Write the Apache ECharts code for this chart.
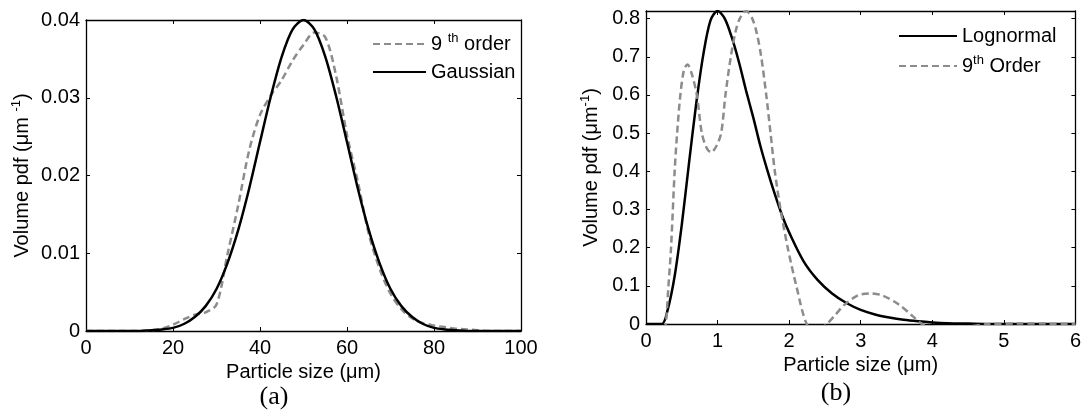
<!DOCTYPE html>
<html><head><meta charset="utf-8">
<script src="https://cdn.jsdelivr.net/npm/echarts@6/dist/echarts.min.js"></script>
<style>html,body{margin:0;padding:0;background:#fff}#c{width:1084px;height:410px}</style>
</head><body><div id="c"></div>
<script>
// ---------- Data (a) ----------
const xA = [0,2.5,5,7.5,10,12.5,15,17.5,20,22.5,25,27.5,30,32.5,35,37.5,40,42.5,45,47.5,50,52.5,55,57.5,60,62.5,65,67.5,70,72.5,75,77.5,80,82.5,85,87.5,90,92.5,95,97.5,100];
const gaussianA = [0,0,0,0,0,0,0.0001,0.0002,0.0004,0.0009,0.0018,0.0032,0.0054,0.0087,0.0130,0.0183,0.0243,0.0302,0.0353,0.0388,0.0400,0.0388,0.0353,0.0302,0.0243,0.0183,0.0130,0.0087,0.0054,0.0032,0.0018,0.0009,0.0004,0.0002,0.0001,0,0,0,0,0,0];
const order9A = [0,0,0,0,0,0,0.0001,0.0003,0.0008,0.0015,0.0021,0.0024,0.0034,0.0098,0.0162,0.0232,0.0278,0.0303,0.0323,0.0348,0.0368,0.0384,0.0378,0.0328,0.0252,0.0192,0.0125,0.0080,0.0048,0.0028,0.0016,0.0010,0.0007,0.0005,0.0003,0.0002,0.0001,0,0,0,0];
const xTicksA = [0,20,40,60,80,100];
const yTicksA = [0,0.01,0.02,0.03,0.04];

// ---------- Data (b) ----------
const xLognB = [0,0.22,0.3,0.4,0.5,0.6,0.7,0.8,0.9,1.0,1.1,1.2,1.3,1.4,1.5,1.6,1.7,1.8,1.9,2.0,2.2,2.4,2.6,2.8,3.0,3.2,3.4,3.6,3.8,4.0,4.2,4.5,5.0,6.0];
const lognormalB = [0,0,0.035,0.125,0.26,0.42,0.575,0.705,0.795,0.82,0.80,0.75,0.685,0.61,0.54,0.465,0.40,0.34,0.285,0.24,0.165,0.115,0.08,0.055,0.037,0.025,0.017,0.011,0.007,0.004,0.002,0.001,0,0];
const x9B = [0,0.2,0.276,0.31,0.35,0.40,0.435,0.48,0.53,0.58,0.64,0.71,0.78,0.85,0.91,0.98,1.05,1.11,1.185,1.25,1.31,1.40,1.485,1.55,1.61,1.68,1.74,1.80,1.88,1.98,2.10,2.245,2.38,2.525,2.65,2.77,2.96,3.13,3.30,3.54,3.73,3.86,4.1,4.4,4.8,5.2,5.6,6.0];
const order9B = [-0.3,-0.08,0,0.09,0.2,0.4,0.5,0.6,0.665,0.68,0.655,0.6,0.5,0.46,0.45,0.465,0.5,0.6,0.7,0.765,0.8,0.82,0.8,0.76,0.7,0.6,0.5,0.4,0.3,0.2,0.1,0,-0.02,0,0.025,0.05,0.075,0.08,0.075,0.05,0.02,0,-0.008,-0.008,0,0.001,0.001,0];
const xTicksB = [0,1,2,3,4,5,6];
const yTicksB = [0,0.1,0.2,0.3,0.4,0.5,0.6,0.7,0.8];
const yMaxB = 0.82;

// ---------- Styling ----------
const FONT = 'Arial, "Liberation Sans", Helvetica, sans-serif';
const FS = 20;
const GRAY = '#8c8c8c';
const pairs = (xs, ys) => xs.map((x, i) => [x, ys[i]]);
const supRich = { sup: { fontSize: 13, fontFamily: FONT, color: '#000', padding: [0, 0, 11, 0] } };

function xAxes(gi, ticks, name) {
  const base = {
    gridIndex: gi, type: 'value', min: ticks[0], max: ticks[ticks.length - 1], interval: ticks[1] - ticks[0],
    axisLine: { show: true, onZero: false, lineStyle: { color: '#000', width: 1.3 } },
    axisTick: { show: true, inside: true, length: 4, lineStyle: { color: '#000', width: 1 } },
    splitLine: { show: false }
  };
  return [
    Object.assign({}, base, {
      position: 'bottom',
      axisLabel: { color: '#000', fontSize: FS, fontFamily: FONT, margin: 7 },
      name: name, nameLocation: 'middle', nameGap: 30,
      nameTextStyle: { color: '#000', fontSize: FS, fontFamily: FONT }
    }),
    Object.assign({}, base, { position: 'top', axisLabel: { show: false } })
  ];
}
function yAxes(gi, ticks, max, name, gap) {
  const base = {
    gridIndex: gi, type: 'value', min: ticks[0], max: max, interval: ticks[1] - ticks[0],
    axisLine: { show: true, onZero: false, lineStyle: { color: '#000', width: 1.3 } },
    axisTick: { show: true, inside: true, length: 4, lineStyle: { color: '#000', width: 1 } },
    splitLine: { show: false }
  };
  return [
    Object.assign({}, base, {
      position: 'left',
      axisLabel: { color: '#000', fontSize: FS, fontFamily: FONT, margin: 6, showMaxLabel: max === ticks[ticks.length - 1] },
      name: name, nameLocation: 'middle', nameGap: gap, nameRotate: 90,
      nameTextStyle: { color: '#000', fontSize: FS, fontFamily: FONT, rich: supRich }
    }),
    Object.assign({}, base, { position: 'right', axisLabel: { show: false } })
  ];
}
function legendItem(name, left, top, w) {
  return {
    data: [name], left: left, top: top, orient: 'vertical',
    itemWidth: w, itemHeight: 14, itemGap: 0, padding: 0, selectedMode: false,
    itemStyle: { opacity: 0 },
    formatter: n => n.replace(/(th)/, '{sup|$1}'),
    textStyle: { color: '#000', fontSize: FS, fontFamily: FONT, lineHeight: 22, rich: supRich }
  };
}

const option = {
  animation: false,
  backgroundColor: '#fff',
  grid: [
    { left: 86, top: 20, width: 435, height: 311 },
    { left: 646, top: 11, width: 431, height: 313 }
  ],
  xAxis: [...xAxes(0, xTicksA, 'Particle size (μm)'), ...xAxes(1, xTicksB, 'Particle size (μm)')],
  yAxis: [...yAxes(0, yTicksA, yTicksA[yTicksA.length - 1], 'Volume pdf (μm {sup|-1})', 52),
          ...yAxes(1, yTicksB, yMaxB, 'Volume pdf (μm{sup|-1})', 43)],
  legend: [
    legendItem('9 th order', 372, 32, 53),
    legendItem('Gaussian', 372, 61, 53),
    legendItem('Lognormal', 898, 25, 58),
    legendItem('9th Order', 898, 54, 58)
  ],
  series: [
    { name: '9 th order', type: 'line', xAxisIndex: 0, yAxisIndex: 0, data: pairs(xA, order9A), symbol: 'none', smooth: 0.3,
      lineStyle: { color: GRAY, width: 2.5, type: [7, 4] }, itemStyle: { color: GRAY } },
    { name: 'Gaussian', type: 'line', xAxisIndex: 0, yAxisIndex: 0, data: pairs(xA, gaussianA), symbol: 'none', smooth: 0.3,
      lineStyle: { color: '#000', width: 2.5 }, itemStyle: { color: '#000' } },
    { name: 'Lognormal', type: 'line', xAxisIndex: 2, yAxisIndex: 2, data: pairs(xLognB, lognormalB), symbol: 'none', smooth: 0.3,
      lineStyle: { color: '#000', width: 2.5 }, itemStyle: { color: '#000' } },
    { name: '9th Order', type: 'line', xAxisIndex: 2, yAxisIndex: 2, data: pairs(x9B, order9B), symbol: 'none', smooth: 0.3,
      lineStyle: { color: GRAY, width: 2.5, type: [7, 4] }, itemStyle: { color: GRAY } }
  ],
  graphic: [
    { type: 'text', x: 274, y: 397, style: { text: '(a)', fontSize: 26, fontFamily: '"Times New Roman", "Liberation Serif", serif', fill: '#000', align: 'center', verticalAlign: 'middle', textAlign: 'center', textVerticalAlign: 'middle' } },
    { type: 'text', x: 836, y: 393, style: { text: '(b)', fontSize: 26, fontFamily: '"Times New Roman", "Liberation Serif", serif', fill: '#000', align: 'center', verticalAlign: 'middle', textAlign: 'center', textVerticalAlign: 'middle' } }
  ]
};
const chart = echarts.init(document.getElementById('c'), null, { renderer: 'canvas' });
chart.setOption(option);
</script>
</body></html>
